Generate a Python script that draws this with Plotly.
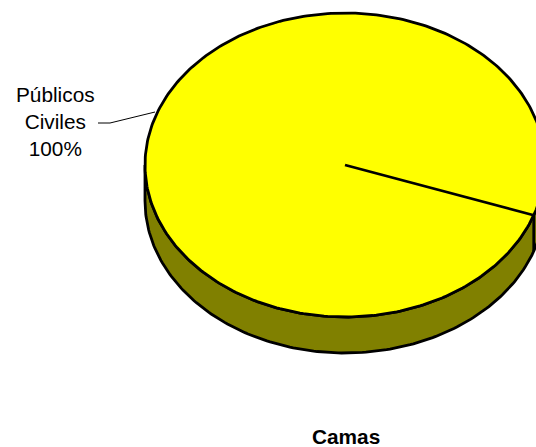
import numpy as np
import plotly.graph_objects as go

# Data
categories = ["Públicos Civiles"]
values = [100]
percent_labels = ["100%"]
chart_title = "Camas"

# Faux-3D pie geometry, in the pixel space of the axes
W, H = 536, 447
CX, CY = 345, 165
RX, RY = 200, 152
DEPTH = 36
START_DEG = 19.3  # clockwise below the horizontal, in ellipse parameter space
TOP = "#FFFF00"
SIDE = "#808000"
EDGE_W = 2.8
LEADER_X = [98, 110, 155]
LEADER_Y = [123, 123, 112]


def rim(deg, dy=0):
    t = np.radians(deg)
    return CX + RX * np.cos(t), CY + dy + RY * np.sin(t)


fig = go.Figure()

# side wall: front half of the rim, and the same arc one depth lower
front = np.linspace(0, 180, 181)
x1, y1 = rim(front)
x2, y2 = rim(front[::-1], DEPTH)
fig.add_trace(go.Scatter(
    x=np.r_[x1, x2, x1[0]], y=np.r_[y1, y2, y1[0]],
    mode="lines", fill="toself", fillcolor=SIDE,
    line=dict(color="black", width=EDGE_W), hoverinfo="skip", showlegend=False))

# vertical edge where the slice boundary meets the wall
ex, ey = rim(START_DEG)
ex2, ey2 = rim(START_DEG, DEPTH)
fig.add_trace(go.Scatter(
    x=[ex, ex2], y=[ey, ey2], mode="lines",
    line=dict(color="black", width=EDGE_W), hoverinfo="skip", showlegend=False))

# top face
full = np.linspace(0, 360, 361)
tx, ty = rim(full)
fig.add_trace(go.Scatter(
    x=tx, y=ty, mode="lines", fill="toself", fillcolor=TOP,
    line=dict(color="black", width=EDGE_W), name=categories[0], showlegend=False))

# slice boundaries, from the cumulative values
total = sum(values)
for v in np.cumsum(values):
    bx, by = rim(START_DEG + 360 * v / total)
    fig.add_trace(go.Scatter(
        x=[CX, bx], y=[CY, by], mode="lines",
        line=dict(color="black", width=EDGE_W), hoverinfo="skip", showlegend=False))

# leader line
fig.add_trace(go.Scatter(
    x=LEADER_X, y=LEADER_Y, mode="lines",
    line=dict(color="black", width=1), hoverinfo="skip", showlegend=False))

FONT = "Liberation Sans, Arial, sans-serif"
fig.add_annotation(
    x=55.5, y=121.5, xref="x", yref="y", showarrow=False, align="center",
    text="Públicos<br>Civiles<br>" + percent_labels[0],
    font=dict(family=FONT, size=20.8, color="black"))
fig.add_annotation(
    x=346, y=436, xref="x", yref="y", showarrow=False,
    text="<b>" + chart_title + "</b>",
    font=dict(family=FONT, size=20.8, color="black"))

fig.update_layout(
    width=W, height=H, autosize=False,
    margin=dict(l=0, r=0, t=0, b=0, pad=0),
    paper_bgcolor="white", plot_bgcolor="white",
    xaxis=dict(range=[0, W], visible=False, fixedrange=True),
    yaxis=dict(range=[H, 0], visible=False, fixedrange=True),
)

fig.write_html(
    "out.html",
    config={"displayModeBar": False},
    post_script="document.body.style.margin='0';document.body.style.overflow='hidden';",
)
